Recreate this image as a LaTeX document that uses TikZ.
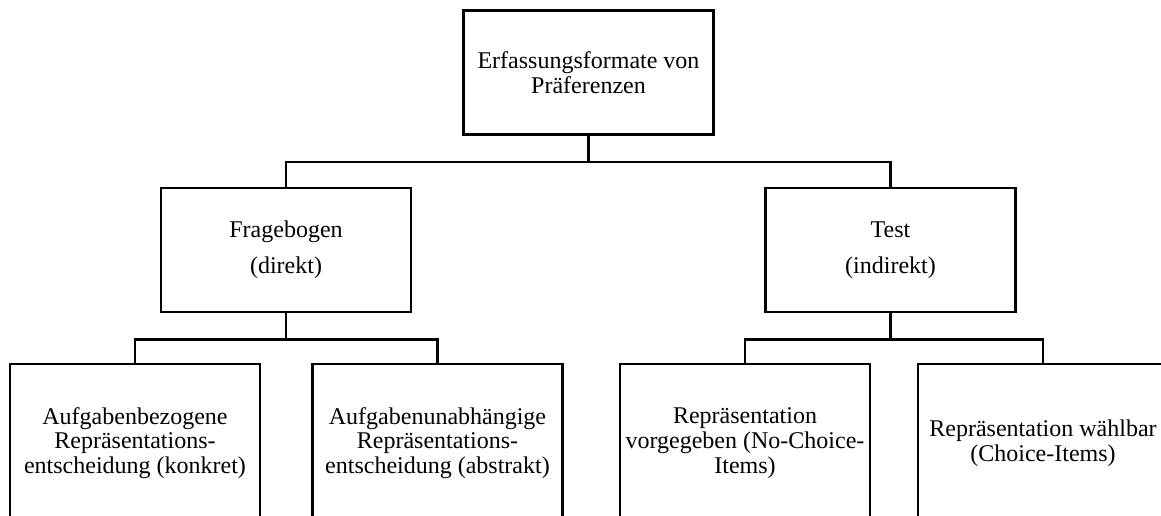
\documentclass[tikz,border=0pt]{standalone}
\usepackage{fontspec}
\setmainfont{Liberation Serif}
\usepackage{tikz}
\usetikzlibrary{positioning}
\tikzset{
  box/.style={draw,line width=1.3pt,rectangle,minimum width=125pt,minimum height=62pt,align=center,inner sep=0pt,font=\fontsize{12}{12.3}\selectfont},
  leaf/.style={box,minimum height=79pt},
  link/.style={line width=1.3pt}
}
\begin{document}
\begin{tikzpicture}[x=0.5pt,y=-0.5pt]
                \useasboundingbox (0,0) rectangle (1161,515);
                \clip (0,0) rectangle (1161,515);
                \node[box] (top) at (588.5,72.5) {Erfassungsformate von\\Präferenzen};
                \node[box] (frage) at (286,250) {Fragebogen\\[5.7pt](direkt)};
                \node[box] (test) at (890.5,250) {Test\\[5.7pt](indirekt)};
                \node[leaf] (konkret) at (135,443) {Aufgabenbezogene\\Repräsentations-\\entscheidung (konkret)};
                \node[leaf] (abstrakt) at (437.5,443) {Aufgabenunabhängige\\Repräsentations-\\entscheidung (abstrakt)};
                \node[leaf] (nochoice) at (745,443) {Repräsentation\\vorgegeben (No-Choice-\\Items)};
                \node[leaf] (choice) at (1043,443) {Repräsentation wählbar\\(Choice-Items)};
                \draw[link] (top.south) -- ++(0,26) -| (frage.north);
                \draw[link] (top.south) -- ++(0,26) -| (test.north);
                \draw[link] (frage.south) -- ++(0,26) -| (konkret.north);
                \draw[link] (frage.south) -- ++(0,26) -| (abstrakt.north);
                \draw[link] (test.south) -- ++(0,26) -| (nochoice.north);
                \draw[link] (test.south) -- ++(0,26) -| (choice.north);
            \end{tikzpicture}
\end{document}
